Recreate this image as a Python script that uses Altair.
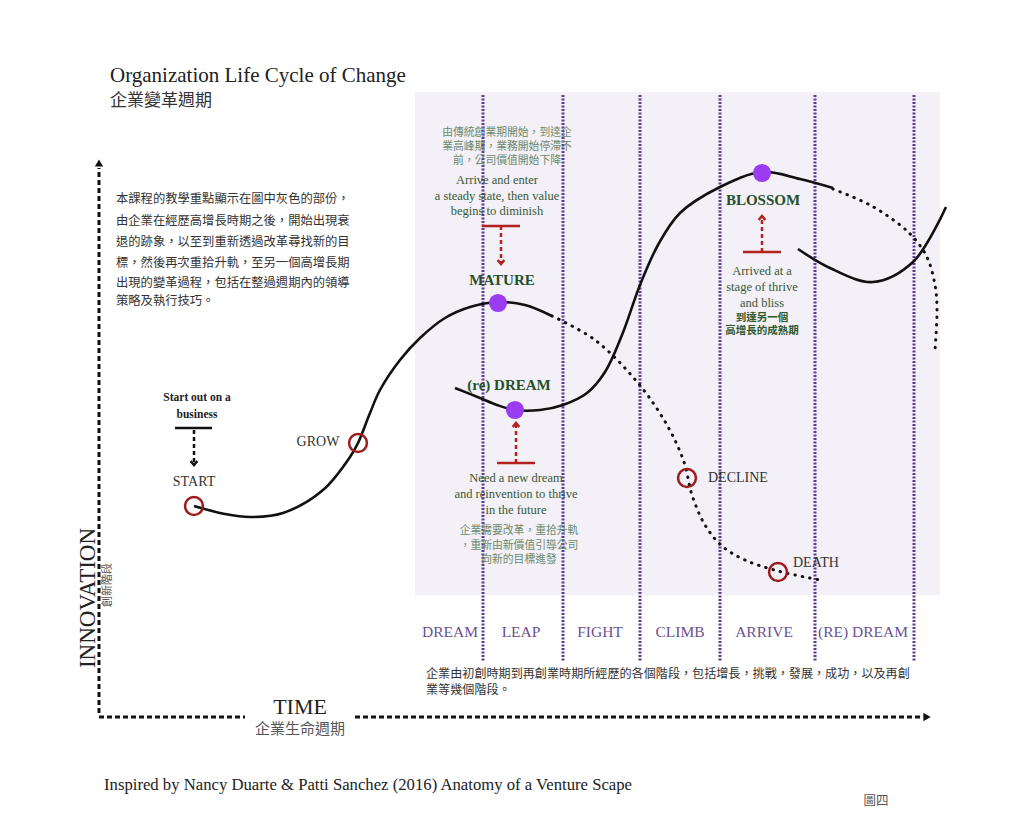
import altair as alt
import pandas as pd

# ---------------- data (diagram coordinates: x = time, y = innovation, page-like units) ----------------
# main life-cycle curve (solid), start -> grow -> mature
main_x = [194, 225, 250, 283, 323, 350, 358, 370, 380, 400, 420, 445, 470, 498, 525, 552]
main_y = [506, 514, 517, 513, 490, 457, 443, 413, 390, 360, 338, 318, 307, 302, 305, 316]
# decline branch (dotted)
decline_x = [552, 595, 638, 667, 684, 692, 705, 722, 745, 778, 820]
decline_y = [316, 340, 383, 425, 462, 495, 525, 546, 560, 571, 580]
# re-dream curve (solid) -> blossom
redream_x = [455, 480, 497, 515, 540, 563, 587, 605, 622, 640, 658, 680, 720, 762, 800, 833]
redream_y = [388, 398, 405, 410, 410, 405, 393, 372, 335, 285, 245, 213, 187, 172, 179, 188]
# blossom decline (dotted)
fall_x = [833, 870, 900, 913, 927, 935, 937, 935]
fall_y = [189, 205, 225, 237, 257, 285, 310, 350]
# next re-dream curve (solid)
next_x = [798, 830, 873, 913, 946]
next_y = [249, 268, 282, 262, 207]

# stage markers
ring_x = [194, 358, 687, 778]
ring_y = [506, 443, 478, 572]
dot_x = [498, 515, 762]
dot_y = [303, 410, 173]

# phases
phase_names = ["DREAM", "LEAP", "FIGHT", "CLIMB", "ARRIVE", "(RE) DREAM"]
phase_x = [450, 521, 600, 680, 764, 863]
phase_y = [632, 632, 632, 632, 632, 632]
phase_line_x = [483, 563, 640, 720, 815, 914]

# shaded focus region
shade_x, shade_x2, shade_y, shade_y2 = [415], [940], [92], [595]

# point labels
stage_labels = ["START", "GROW", "DECLINE", "DEATH"]
stage_lab_x = [194, 318, 708, 793]
stage_lab_y = [482, 442, 478, 563]

key_labels = ["MATURE", "(re) DREAM", "BLOSSOM"]
key_lab_x = [502, 509, 763]
key_lab_y = [280, 385, 200]

# annotation texts
mature_en = ["Arrive and enter", "a steady state, then value", "begins to diminish"]
mature_en_y = [180, 196, 211]
mature_zh = ["由傳統創業期開始，到達企", "業高峰期，業務開始停滯不", "前，公司價值開始下降"]
mature_zh_y = [133, 147, 161]
redream_en = ["Need a new dream", "and reinvention to thrive", "in the future"]
redream_en_y = [478, 494, 510]
redream_zh = ["企業需要改革，重拾升軌", "，重新由新價值引導公司", "向新的目標進發"]
redream_zh_y = [531, 546, 560]
blossom_en = ["Arrived at a", "stage of thrive", "and bliss"]
blossom_en_y = [271, 287, 303]
blossom_zh = ["到達另一個", "高增長的成熟期"]
blossom_zh_y = [318, 331]
start_note = ["Start out on a", "business"]
start_note_y = [398, 415]

intro_zh = ["本課程的教學重點顯示在圖中灰色的部份，",
            "由企業在經歷高增長時期之後，開始出現衰",
            "退的跡象，以至到重新透過改革尋找新的目",
            "標，然後再次重拾升軌，至另一個高增長期",
            "出現的變革過程，包括在整過週期內的領導",
            "策略及執行技巧。"]
intro_y = [199, 221, 242, 263, 283, 301]

phase_note = ["企業由初創時期到再創業時期所經歷的各個階段，包括增長，挑戰，發展，成功，以及再創",
              "業等幾個階段。"]
phase_note_y = [674, 690]

# callout bars (T) and arrows: bar x-range, bar y, arrow x, arrow end y
red_bar_x = [482, 497, 743]
red_bar_x2 = [520, 535, 781]
red_bar_y = [226, 463, 252]
red_arrow_x = [501, 516, 762]
red_arrow_end = [262, 425, 218]
red_arrow_dir = ["down", "up", "up"]

# ---------------- helpers ----------------
XS = alt.Scale(domain=[8, 1016], nice=False, zero=False)
YS = alt.Scale(domain=[8, 827], nice=False, zero=False, reverse=True)
SERIF = "Liberation Serif"
CJK = "Noto Sans CJK TC"


def X(f="x"):
    return alt.X(f + ":Q", scale=XS, axis=None)


def Y(f="y"):
    return alt.Y(f + ":Q", scale=YS, axis=None)


def curve(xs, ys, dotted=False):
    df = pd.DataFrame({"x": xs, "y": ys, "o": list(range(len(xs)))})
    if dotted:
        m = alt.Chart(df).mark_line(interpolate="catmull-rom", color="#111", strokeWidth=3,
                                    strokeDash=[0.5, 7], strokeCap="round")
    else:
        m = alt.Chart(df).mark_line(interpolate="catmull-rom", color="#111", strokeWidth=2.6)
    return m.encode(x=X(), y=Y(), order="o:Q")


def text_layer(texts, xs, ys, **kw):
    df = pd.DataFrame({"x": xs, "y": ys, "t": texts})
    return alt.Chart(df).mark_text(baseline="middle", **kw).encode(x=X(), y=Y(), text="t:N")


layers = []

# shaded region
layers.append(alt.Chart(pd.DataFrame({"x": shade_x, "x2": shade_x2, "y": shade_y, "y2": shade_y2}))
              .mark_rect(color="#f4f0f7").encode(x=X(), x2="x2:Q", y=Y(), y2="y2:Q"))

# phase dividers
layers.append(alt.Chart(pd.DataFrame({"x": phase_line_x, "y": [95] * 6, "y2": [662] * 6}))
              .mark_rule(color="#5b3a99", strokeWidth=3, strokeDash=[2, 1.5])
              .encode(x=X(), y=Y(), y2="y2:Q"))

# axes (dashed)
layers.append(alt.Chart(pd.DataFrame({"x": [99, 99, 355], "x2": [99, 245, 922],
                                      "y": [713, 717, 717], "y2": [168, 717, 717]}))
              .mark_rule(color="#111", strokeWidth=3, strokeDash=[5, 3])
              .encode(x=X(), x2="x2:Q", y=Y(), y2="y2:Q"))
layers.append(alt.Chart(pd.DataFrame({"x": [99], "y": [163]}))
              .mark_point(shape="triangle-up", filled=True, color="#111", size=70, opacity=1)
              .encode(x=X(), y=Y()))
layers.append(alt.Chart(pd.DataFrame({"x": [927], "y": [717]}))
              .mark_point(shape="triangle-right", filled=True, color="#111", size=70, opacity=1)
              .encode(x=X(), y=Y()))

# curves
layers += [curve(main_x, main_y), curve(decline_x, decline_y, True),
           curve(redream_x, redream_y), curve(fall_x, fall_y, True), curve(next_x, next_y)]

# start callout (black)
layers.append(alt.Chart(pd.DataFrame({"x": [175], "x2": [212], "y": [428]}))
              .mark_rule(color="#111", strokeWidth=2.5).encode(x=X(), x2="x2:Q", y=Y()))
layers.append(alt.Chart(pd.DataFrame({"x": [194], "y": [430], "y2": [462]}))
              .mark_rule(color="#111", strokeWidth=2.5, strokeDash=[4, 3]).encode(x=X(), y=Y(), y2="y2:Q"))
layers.append(alt.Chart(pd.DataFrame({"x": [194], "y": [463]}))
              .mark_point(shape="M -1 -0.6 L 0 0.6 L 1 -0.6", filled=False, color="#111",
                          strokeWidth=2.5, size=45, opacity=1)
              .encode(x=X(), y=Y()))

# red callouts
rb = pd.DataFrame({"x": red_bar_x, "x2": red_bar_x2, "y": red_bar_y})
layers.append(alt.Chart(rb).mark_rule(color="#b3221e", strokeWidth=2.5).encode(x=X(), x2="x2:Q", y=Y()))
ra = pd.DataFrame({"x": red_arrow_x, "y": red_bar_y, "y2": red_arrow_end, "d": red_arrow_dir})
layers.append(alt.Chart(ra).mark_rule(color="#b3221e", strokeWidth=2.5, strokeDash=[4, 3])
              .encode(x=X(), y=Y(), y2="y2:Q"))
down = ra[ra.d == "down"]
up = ra[ra.d == "up"]
layers.append(alt.Chart(down).mark_point(shape="M -1 -0.6 L 0 0.6 L 1 -0.6", filled=False, color="#b3221e",
                                         strokeWidth=2.5, size=45, opacity=1).encode(x=X(), y=Y("y2")))
layers.append(alt.Chart(up).mark_point(shape="M -1 0.6 L 0 -0.6 L 1 0.6", filled=False, color="#b3221e",
                                       strokeWidth=2.5, size=45, opacity=1).encode(x=X(), y=Y("y2")))

# rings and dots
layers.append(alt.Chart(pd.DataFrame({"x": ring_x, "y": ring_y}))
              .mark_point(shape="circle", filled=False, color="#9e1b1b", strokeWidth=2.5, size=320, opacity=1)
              .encode(x=X(), y=Y()))
layers.append(alt.Chart(pd.DataFrame({"x": dot_x, "y": dot_y}))
              .mark_point(shape="circle", filled=True, color="#9a3df2", size=330, opacity=1)
              .encode(x=X(), y=Y()))

# texts
layers.append(text_layer(["Organization Life Cycle of Change"], [110], [76], font=SERIF, fontSize=21,
                         color="#222", align="left"))
layers.append(text_layer(["企業變革週期"], [110], [101], font=CJK, fontSize=17, color="#333", align="left"))
layers.append(text_layer(intro_zh, [116] * len(intro_zh), intro_y, font=CJK, fontSize=12.3, color="#333",
                         align="left"))
layers.append(text_layer(phase_names, phase_x, phase_y, font=SERIF, fontSize=15.5, color="#6b5190",
                         align="center"))
layers.append(text_layer(phase_note, [426, 426], phase_note_y, font=CJK, fontSize=12.1, color="#333",
                         align="left"))
layers.append(text_layer(stage_labels[:2], stage_lab_x[:2], stage_lab_y[:2], font=SERIF, fontSize=14,
                         color="#333", align="center"))
layers.append(text_layer(stage_labels[2:], stage_lab_x[2:], stage_lab_y[2:], font=SERIF, fontSize=14,
                         color="#333", align="left"))
layers.append(text_layer(key_labels, key_lab_x, key_lab_y, font=SERIF, fontSize=15, fontWeight="bold",
                         color="#24502a", align="center"))
layers.append(text_layer(start_note, [197, 197], start_note_y, font=SERIF, fontSize=11.5, fontWeight="bold",
                         color="#222", align="center"))
layers.append(text_layer(mature_en, [497] * 3, mature_en_y, font=SERIF, fontSize=12.5, color="#365a36",
                         align="center"))
layers.append(text_layer(mature_zh, [507] * 3, mature_zh_y, font=CJK, fontSize=10.8, color="#6c8a6c",
                         align="center"))
layers.append(text_layer(redream_en, [516] * 3, redream_en_y, font=SERIF, fontSize=12.5, color="#365a36",
                         align="center"))
layers.append(text_layer(redream_zh, [519] * 3, redream_zh_y, font=CJK, fontSize=10.8, color="#6c8a6c",
                         align="center"))
layers.append(text_layer(blossom_en, [762] * 3, blossom_en_y, font=SERIF, fontSize=12.5, color="#365a36",
                         align="center"))
layers.append(text_layer(blossom_zh, [762] * 2, blossom_zh_y, font=CJK, fontSize=10.5, fontWeight="bold",
                         color="#2f5a2f", align="center"))
layers.append(text_layer(["INNOVATION"], [88], [598], font=SERIF, fontSize=23, color="#222",
                         align="center", angle=270))
layers.append(text_layer(["創新階段"], [108], [585], font=CJK, fontSize=11, color="#555",
                         align="center", angle=270))
layers.append(text_layer(["TIME"], [300], [707], font=SERIF, fontSize=22, color="#222", align="center"))
layers.append(text_layer(["企業生命週期"], [300], [729], font=CJK, fontSize=15, color="#555", align="center"))
layers.append(text_layer(["Inspired by Nancy Duarte & Patti Sanchez (2016) Anatomy of a Venture Scape"],
                         [104], [785], font=SERIF, fontSize=16.7, color="#222", align="left"))
layers.append(text_layer(["圖四"], [876], [801], font=CJK, fontSize=12.5, color="#555", align="center"))

chart = alt.layer(*layers).properties(
    width=1008, height=819, padding=0, background="white",
    autosize=alt.AutoSizeParams(type="none")
).configure_view(stroke=None)

chart.save("out.html", embed_options={"renderer": "svg", "actions": False})
